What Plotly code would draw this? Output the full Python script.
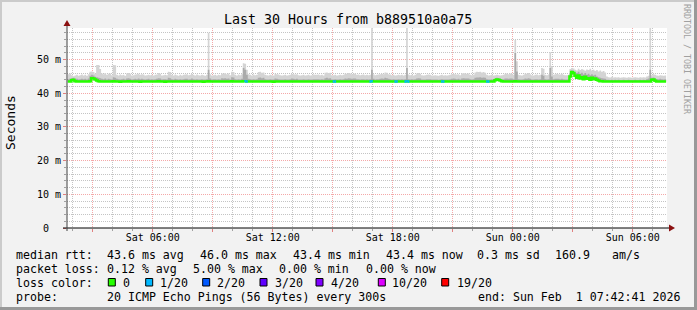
import pandas as pd
import plotly.graph_objects as go

# ---------------- data ----------------
start_time = "2026-01-31 01:42:41"
end_time = "2026-02-01 07:42:41"
first_step = "2026-01-31 01:45:00"
step_minutes = 5

median_rtt = [
    43.5, 43.5, 43.5, 43.9, 44.0, 43.6, 43.5, 43.5, 43.5, 43.5,
    43.5, 43.5, 43.5, 43.5, 43.6, 44.5, 44.4, 44.1, 43.8, 43.6,
    43.5, 43.5, 43.5, 43.5, 43.5, 43.5, 43.5, 43.5, 43.6, 43.5,
    43.5, 43.5, 43.4, 43.5, 43.5, 43.5, 43.5, 43.6, 43.5, 43.5,
    43.5, 43.5, 43.5, 43.5, 43.4, 43.5, 43.5, 43.5, 43.5, 43.5,
    43.5, 43.5, 43.5, 43.5, 43.5, 43.6, 43.5, 43.5, 43.5, 43.4,
    43.5, 43.5, 43.5, 43.5, 43.5, 43.5, 43.5, 43.5, 43.5, 43.5,
    43.5, 43.5, 43.5, 43.5, 43.5, 43.5, 43.5, 43.5, 43.5, 43.5,
    43.5, 43.5, 43.4, 43.5, 43.5, 43.6, 43.5, 43.5, 43.5, 43.5,
    43.5, 43.5, 43.5, 43.5, 43.5, 43.5, 43.5, 43.5, 43.5, 43.6,
    43.5, 43.5, 43.5, 43.5, 43.5, 43.5, 43.6, 43.6, 43.5, 43.5,
    43.5, 43.5, 43.5, 43.5, 43.5, 43.5, 43.5, 43.5, 43.5, 43.5,
    43.5, 43.5, 43.5, 43.5, 43.4, 43.5, 43.5, 43.5, 43.5, 43.5,
    43.5, 43.5, 43.5, 43.5, 43.5, 43.5, 43.5, 43.5, 43.5, 43.5,
    43.5, 43.5, 43.5, 43.5, 43.5, 43.5, 43.5, 43.5, 43.5, 43.5,
    43.5, 43.5, 43.5, 43.5, 43.5, 43.5, 43.5, 43.5, 43.5, 43.5,
    43.5, 43.5, 43.5, 43.5, 43.5, 43.5, 43.5, 43.5, 43.5, 43.5,
    43.5, 43.5, 43.5, 43.5, 43.5, 43.5, 43.5, 43.5, 43.5, 43.5,
    43.5, 43.5, 43.5, 43.6, 43.5, 43.5, 43.5, 43.5, 43.5, 43.5,
    43.5, 43.5, 43.5, 43.5, 43.5, 43.5, 43.5, 43.5, 43.5, 43.5,
    43.5, 43.5, 43.5, 43.5, 43.6, 43.5, 43.5, 43.5, 43.5, 43.5,
    43.5, 43.5, 43.5, 43.5, 43.5, 43.5, 43.5, 43.5, 43.5, 43.5,
    43.5, 43.5, 43.5, 43.5, 43.5, 43.5, 43.5, 43.5, 43.5, 43.5,
    43.5, 43.5, 43.5, 43.5, 43.5, 43.5, 43.5, 43.5, 43.5, 43.5,
    43.5, 43.5, 43.5, 43.5, 43.5, 43.5, 43.5, 43.5, 43.5, 43.5,
    43.5, 43.5, 43.5, 43.5, 43.5, 43.5, 43.5, 43.9, 44.1, 44.0,
    43.8, 43.6, 43.5, 43.5, 43.5, 43.5, 43.5, 43.5, 43.5, 43.6,
    43.5, 43.5, 43.5, 43.5, 43.5, 43.5, 43.5, 43.5, 43.5, 43.5,
    43.5, 43.5, 43.5, 43.5, 43.5, 43.5, 43.5, 43.5, 43.5, 43.5,
    43.5, 43.5, 43.5, 43.5, 43.5, 43.5, 43.5, 43.5, 43.5, 43.5,
    43.5, 43.5, 45.0, 46.3, 46.0, 45.2, 44.6, 45.3, 44.4, 44.8,
    44.2, 44.9, 44.3, 44.5, 44.0, 44.6, 44.2, 44.4, 44.0, 43.8,
    43.6, 43.6, 43.5, 43.5, 43.5, 43.5, 43.5, 43.5, 43.5, 43.5,
    43.5, 43.5, 43.5, 43.5, 43.5, 43.5, 43.5, 43.5, 43.5, 43.5,
    43.5, 43.5, 43.5, 43.5, 43.5, 43.5, 43.5, 43.5, 43.5, 43.5,
    43.5, 44.0, 44.1, 43.7, 43.5, 43.5, 43.5, 43.5, 43.5, 43.5,
]

smoke_mid = [
    44.3, 44.2, 44.4, 44.5, 44.6, 44.2, 44.3, 44.1, 44.2, 44.3,
    44.2, 44.3, 44.1, 44.4, 45.2, 45.5, 45.3, 44.9, 44.8, 44.6,
    44.5, 44.3, 44.2, 44.4, 44.1, 44.3, 44.2, 44.1, 44.8, 44.6,
    44.3, 44.2, 44.1, 44.2, 44.3, 44.1, 44.4, 44.5, 44.3, 44.1,
    44.2, 44.3, 44.2, 44.4, 44.2, 44.3, 44.2, 44.1, 44.2, 44.3,
    44.1, 44.2, 44.1, 44.2, 44.3, 44.5, 44.4, 44.1, 44.2, 44.2,
    44.1, 44.6, 44.5, 44.2, 44.1, 44.3, 44.2, 44.1, 44.2, 44.1,
    44.2, 44.3, 44.3, 44.1, 44.2, 44.4, 44.2, 44.1, 44.2, 44.1,
    44.1, 44.2, 44.1, 44.1, 44.2, 47.0, 44.4, 44.1, 44.2, 44.2,
    44.1, 44.2, 44.1, 44.5, 44.4, 44.5, 44.3, 44.4, 44.1, 44.8,
    44.7, 44.2, 44.1, 44.2, 44.1, 44.3, 47.5, 47.0, 45.5, 44.3,
    44.2, 44.1, 44.2, 44.1, 44.2, 44.6, 44.7, 44.5, 44.6, 44.2,
    44.1, 44.1, 44.2, 44.1, 44.1, 44.4, 44.3, 44.2, 44.1, 44.1,
    44.1, 44.2, 44.1, 44.1, 44.2, 44.4, 44.3, 44.2, 44.3, 44.1,
    44.1, 44.1, 44.2, 44.1, 44.1, 44.2, 44.1, 44.1, 44.2, 44.2,
    44.2, 44.2, 44.1, 44.2, 44.1, 44.5, 44.6, 44.4, 44.5, 44.1,
    44.1, 44.2, 44.1, 44.1, 44.2, 44.1, 44.2, 44.4, 44.3, 44.5,
    44.4, 44.3, 44.4, 44.4, 44.2, 44.2, 44.1, 44.2, 44.2, 44.1,
    44.2, 44.1, 44.2, 47.0, 44.3, 44.1, 44.2, 44.2, 44.3, 44.4,
    44.3, 44.6, 44.5, 44.3, 44.2, 44.1, 44.2, 44.1, 44.1, 44.2,
    44.1, 44.2, 44.1, 44.2, 47.5, 44.2, 44.1, 44.2, 44.1, 44.2,
    44.4, 44.5, 44.4, 44.1, 44.1, 44.1, 44.2, 44.2, 44.2, 44.1,
    44.1, 44.1, 44.1, 44.0, 44.1, 44.2, 44.1, 44.1, 44.1, 44.1,
    44.2, 44.3, 44.4, 44.3, 44.2, 44.3, 44.1, 44.4, 44.5, 44.4,
    44.4, 44.4, 44.2, 44.1, 44.2, 44.6, 44.7, 44.7, 44.8, 44.6,
    44.7, 44.6, 44.2, 44.1, 44.1, 44.2, 44.1, 44.4, 44.6, 44.5,
    44.3, 44.1, 44.2, 44.4, 44.4, 44.3, 44.4, 44.4, 44.2, 52.0,
    46.5, 44.2, 44.1, 44.1, 44.2, 44.4, 44.3, 44.5, 44.3, 44.1,
    44.1, 44.2, 44.2, 44.1, 44.2, 45.5, 45.2, 44.2, 44.1, 44.2,
    47.5, 45.0, 44.2, 44.3, 44.3, 44.3, 44.2, 44.3, 44.2, 44.1,
    44.1, 44.2, 45.8, 46.8, 46.6, 46.2, 46.0, 46.4, 45.8, 46.1,
    45.6, 46.0, 45.5, 45.8, 45.4, 45.7, 45.3, 45.5, 45.0, 44.8,
    44.6, 44.5, 44.4, 44.3, 44.0, 44.0, 43.9, 44.0, 43.9, 44.0,
    43.9, 44.0, 43.9, 43.9, 44.0, 43.9, 43.9, 44.0, 43.9, 43.9,
    43.9, 44.0, 43.9, 43.9, 44.0, 43.9, 44.0, 43.9, 44.2, 44.4,
    47.0, 44.6, 44.7, 44.4, 44.2, 44.2, 44.3, 44.2, 44.1, 44.2,
]

smoke_max = [
    45.9, 45.7, 45.9, 45.4, 45.1, 45.3, 45.5, 45.2, 45.4, 45.6,
    45.3, 45.5, 45.2, 45.7, 46.4, 46.5, 46.3, 45.8, 48.4, 48.4,
    47.2, 45.9, 45.7, 46.0, 45.5, 45.8, 45.9, 45.4, 48.4, 48.3,
    45.5, 45.3, 45.6, 45.4, 45.5, 45.2, 45.9, 46.0, 45.8, 45.3,
    45.4, 45.6, 45.7, 45.8, 45.5, 45.7, 45.6, 45.3, 45.4, 45.5,
    45.4, 45.5, 45.3, 45.5, 45.6, 46.0, 45.8, 45.3, 45.4, 45.5,
    45.4, 46.4, 46.3, 45.5, 45.3, 45.6, 45.4, 45.2, 45.5, 45.3,
    45.5, 45.6, 45.7, 45.4, 45.5, 45.8, 45.5, 45.3, 45.6, 45.4,
    45.3, 45.5, 45.4, 45.2, 45.5, 58.0, 45.7, 45.3, 45.4, 45.5,
    45.3, 45.5, 45.4, 45.9, 45.8, 46.0, 45.7, 45.9, 45.4, 46.4,
    46.3, 45.5, 45.3, 45.6, 45.4, 45.7, 48.9, 48.8, 47.0, 45.7,
    45.5, 45.3, 45.6, 45.4, 45.5, 46.3, 46.4, 46.1, 46.2, 45.5,
    45.4, 45.3, 45.5, 45.4, 45.3, 45.8, 45.7, 45.6, 45.4, 45.3,
    45.4, 45.5, 45.3, 45.4, 45.5, 45.8, 45.7, 45.6, 45.7, 45.4,
    45.3, 45.4, 45.5, 45.3, 45.4, 45.5, 45.3, 45.4, 45.6, 45.5,
    45.5, 45.6, 45.4, 45.5, 45.3, 46.1, 46.2, 46.0, 46.1, 45.4,
    45.4, 45.5, 45.3, 45.4, 45.5, 45.4, 45.5, 45.9, 45.8, 46.0,
    45.9, 45.7, 45.8, 45.9, 45.5, 45.6, 45.4, 45.5, 45.6, 45.4,
    45.5, 45.4, 45.5, 59.6, 45.7, 45.4, 45.5, 45.6, 45.7, 45.8,
    45.7, 46.2, 46.1, 45.7, 45.6, 45.4, 45.5, 45.3, 45.4, 45.5,
    45.4, 45.5, 45.3, 45.5, 59.6, 45.6, 45.4, 45.5, 45.3, 45.5,
    45.9, 46.0, 45.8, 45.4, 45.3, 45.4, 45.5, 45.6, 45.5, 45.3,
    45.3, 45.4, 45.3, 45.2, 45.4, 45.5, 45.3, 45.4, 45.3, 45.4,
    45.5, 45.7, 45.8, 45.7, 45.6, 45.7, 45.4, 45.9, 46.0, 45.9,
    45.8, 45.9, 45.5, 45.4, 45.5, 46.2, 46.4, 46.3, 46.4, 46.2,
    46.3, 46.1, 45.5, 45.3, 45.4, 45.5, 45.3, 45.4, 45.5, 45.4,
    45.3, 45.4, 45.5, 45.8, 45.9, 45.7, 45.9, 45.8, 45.5, 55.8,
    49.5, 45.5, 45.4, 45.3, 45.5, 45.9, 45.8, 46.0, 45.7, 45.4,
    45.3, 45.5, 45.6, 45.4, 45.5, 47.5, 47.3, 45.5, 45.4, 45.6,
    52.2, 48.0, 45.5, 45.7, 45.8, 45.7, 45.6, 45.8, 45.5, 45.4,
    45.4, 45.5, 47.2, 47.5, 47.4, 47.0, 46.8, 47.3, 46.9, 47.2,
    47.0, 46.7, 47.1, 46.9, 47.3, 46.8, 47.0, 46.6, 46.9, 46.5,
    46.8, 46.4, 46.6, 46.2, 45.0, 44.8, 44.7, 44.9, 44.7, 44.8,
    44.7, 44.8, 44.6, 44.7, 44.8, 44.7, 44.6, 44.8, 44.7, 44.6,
    44.7, 44.8, 44.7, 44.6, 44.8, 44.7, 44.8, 44.7, 45.0, 45.2,
    59.4, 45.4, 45.7, 45.5, 45.3, 45.2, 45.4, 45.3, 45.2, 45.3,
]

# steps that lost 1 of 20 pings (all others 0/20)
loss_1_of_20_steps = [107, 108, 160, 161, 182, 183, 197, 198, 203, 204, 205,
                      225, 226, 252, 253]

y_tick_vals = [0, 10, 20, 30, 40, 50]
y_tick_text = ["0\u00a0\u00a0", "10 m", "20 m", "30 m", "40 m", "50 m"]

x_tick_vals = ["2026-01-31 03:00", "2026-01-31 06:00", "2026-01-31 09:00",
               "2026-01-31 12:00", "2026-01-31 15:00", "2026-01-31 18:00",
               "2026-01-31 21:00", "2026-02-01 00:00", "2026-02-01 03:00",
               "2026-02-01 06:00"]
x_tick_text = ["", "Sat 06:00", "", "Sat 12:00", "", "Sat 18:00",
               "", "Sun 00:00", "", "Sun 06:00"]

title_text = "Last 30 Hours from b889510a0a75"

legend_rows = [
    [(16, "median rtt:"), (107.3, "43.6 ms avg"), (200, "46.0 ms max"),
     (293.3, "43.4 ms min"), (386.3, "43.4 ms now"), (477, "0.3 ms sd"),
     (555, "160.9"), (612, "am/s")],
    [(16, "packet loss:"), (107.3, "0.12 % avg"), (193.3, "5.00 % max"),
     (279.3, "0.00 % min"), (366, "0.00 % now")],
    [(16, "loss color:"), (123.3, "0"), (160, "1/20"), (217.3, "2/20"),
     (275.3, "3/20"), (330.7, "4/20"), (392, "10/20"), (456.7, "19/20")],
    [(16, "probe:"), (107.3, "20 ICMP Echo Pings (56 Bytes) every 300s"),
     (478.3, "end: Sun Feb\u00a0\u00a01 07:42:41 2026")],
]
legend_row_y = [254.5, 268.5, 282.5, 296.5]
loss_box_x = [108.3, 145.7, 202.7, 260, 316, 378.3, 441.7]
loss_box_colors = ["#26ff00", "#00b8ff", "#0059ff", "#5e00ff", "#7e00ff",
                   "#dd00ff", "#ff0000"]

# ---------------- figure ----------------
W, H = 697, 310
PL, PR, PT, PB = 67, 667, 28, 228
YMAX = 59.4
FONT = "DejaVu Sans Mono"


def px(x):
    return (x - PL) / (PR - PL)


def py(y):
    return (PB - y) / (PB - PT)


times = pd.date_range(first_step, periods=len(median_rtt), freq=f"{step_minutes}min")
step = pd.Timedelta(minutes=step_minutes)

fig = go.Figure()
# light smoke: median -> max ping
fig.add_trace(go.Scatter(x=times, y=median_rtt, mode="lines", line=dict(width=0, shape="vh"),
                         hoverinfo="skip"))
fig.add_trace(go.Scatter(x=times, y=smoke_max, mode="lines", line=dict(width=0, shape="vh"),
                         fill="tonexty", fillcolor="#d4d4d4", hoverinfo="skip"))
# darker smoke core
fig.add_trace(go.Scatter(x=times, y=median_rtt, mode="lines", line=dict(width=0, shape="vh"),
                         hoverinfo="skip"))
fig.add_trace(go.Scatter(x=times, y=smoke_mid, mode="lines", line=dict(width=0, shape="vh"),
                         fill="tonexty", fillcolor="#aaaaaa", hoverinfo="skip"))
# median line
fig.add_trace(go.Scatter(x=times, y=median_rtt, mode="lines",
                         line=dict(width=2.5, color="#26ff00", shape="vh")))
# loss colored segments of the median line
seg_x, seg_y = [], []
for i in loss_1_of_20_steps:
    seg_x += [times[i] - step, times[i], None]
    seg_y += [median_rtt[i], median_rtt[i], None]
fig.add_trace(go.Scatter(x=seg_x, y=seg_y, mode="lines",
                         line=dict(width=2.5, color="#00b8ff")))

shapes = []
# axes
shapes.append(dict(type="line", xref="paper", yref="paper", x0=px(63), x1=px(669),
                   y0=py(228), y1=py(228), line=dict(color="#000000", width=1)))
shapes.append(dict(type="line", xref="paper", yref="paper", x0=px(67), x1=px(67),
                   y0=py(231), y1=py(25), line=dict(color="#404040", width=1)))
# arrows
shapes.append(dict(type="path", xref="paper", yref="paper",
                   path=f"M {px(63.5)} {py(26)} L {px(70.5)} {py(26)} L {px(67)} {py(20)} Z",
                   fillcolor="#8b1010", line=dict(width=0)))
shapes.append(dict(type="path", xref="paper", yref="paper",
                   path=f"M {px(669)} {py(224.5)} L {px(669)} {py(231.5)} L {px(675)} {py(228)} Z",
                   fillcolor="#8b1010", line=dict(width=0)))
# 3D frame
shapes.append(dict(type="rect", xref="paper", yref="paper", x0=px(0), x1=px(697), y0=py(0), y1=py(2),
                   fillcolor="#cbcbcb", line=dict(width=0)))
shapes.append(dict(type="rect", xref="paper", yref="paper", x0=px(0), x1=px(2), y0=py(0), y1=py(310),
                   fillcolor="#cbcbcb", line=dict(width=0)))
shapes.append(dict(type="rect", xref="paper", yref="paper", x0=px(0), x1=px(697), y0=py(307), y1=py(310),
                   fillcolor="#999999", line=dict(width=0)))
shapes.append(dict(type="rect", xref="paper", yref="paper", x0=px(694), x1=px(697), y0=py(0), y1=py(310),
                   fillcolor="#999999", line=dict(width=0)))
# loss color boxes
for bx, col in zip(loss_box_x, loss_box_colors):
    shapes.append(dict(type="rect", xref="paper", yref="paper", x0=px(bx), x1=px(bx + 7),
                       y0=py(legend_row_y[2] - 4), y1=py(legend_row_y[2] + 3.5),
                       fillcolor=col, line=dict(color="#000000", width=1)))

annotations = []
annotations.append(dict(text=title_text, xref="paper", yref="paper", x=px(348), y=py(19),
                        xanchor="center", yanchor="middle", showarrow=False,
                        font=dict(family=FONT, size=13.3, color="#000000")))
annotations.append(dict(text="Seconds", xref="paper", yref="paper", x=px(10), y=py(123),
                        xanchor="center", yanchor="middle", showarrow=False, textangle=-90,
                        font=dict(family=FONT, size=13, color="#000000")))
annotations.append(dict(text="RRDTOOL / TOBI OETIKER", xref="paper", yref="paper", x=px(687), y=py(59),
                        xanchor="center", yanchor="middle", showarrow=False, textangle=90,
                        font=dict(family=FONT, size=8.3, color="#a0a0a0")))
for row, ry in zip(legend_rows, legend_row_y):
    for lxp, txt in row:
        annotations.append(dict(text=txt, xref="paper", yref="paper", x=px(lxp), y=py(ry),
                                xanchor="left", yanchor="middle", showarrow=False,
                                borderpad=0, borderwidth=0,
                                font=dict(family=FONT, size=11.6, color="#000000")))

fig.update_layout(
    width=W, height=H,
    margin=dict(l=PL, r=W - PR, t=PT, b=H - PB),
    paper_bgcolor="#f2f2f2", plot_bgcolor="#ffffff",
    showlegend=False,
    shapes=shapes, annotations=annotations,
    xaxis=dict(
        type="date", range=[start_time, end_time],
        tickmode="array", tickvals=x_tick_vals, ticktext=x_tick_text,
        showgrid=True, gridcolor="#f4a8a8", griddash="1px,1px", gridwidth=1,
        ticks="outside", ticklen=3, tickcolor="#e08080", ticklabelstandoff=-3,
        tickfont=dict(family=FONT, size=10, color="#000000"),
        showline=False, zeroline=False,
        minor=dict(dtick=3600000, tick0="2026-01-31 00:00", showgrid=True,
                   gridcolor="#c4c4c4", griddash="1px,1px", ticks="outside",
                   ticklen=2, tickcolor="#a0a0a0"),
    ),
    yaxis=dict(
        range=[0, YMAX], tickmode="array", tickvals=y_tick_vals, ticktext=y_tick_text,
        showgrid=True, gridcolor="#f4a8a8", griddash="1px,1px", gridwidth=1,
        ticks="outside", ticklen=3, tickcolor="#e08080",
        tickfont=dict(family=FONT, size=10, color="#000000"),
        showline=False, zeroline=False,
        minor=dict(dtick=2, tick0=0, showgrid=True, gridcolor="#c4c4c4", griddash="1px,1px",
                   ticks="outside", ticklen=2, tickcolor="#a0a0a0"),
    ),
)

fig.write_html("out.html")
